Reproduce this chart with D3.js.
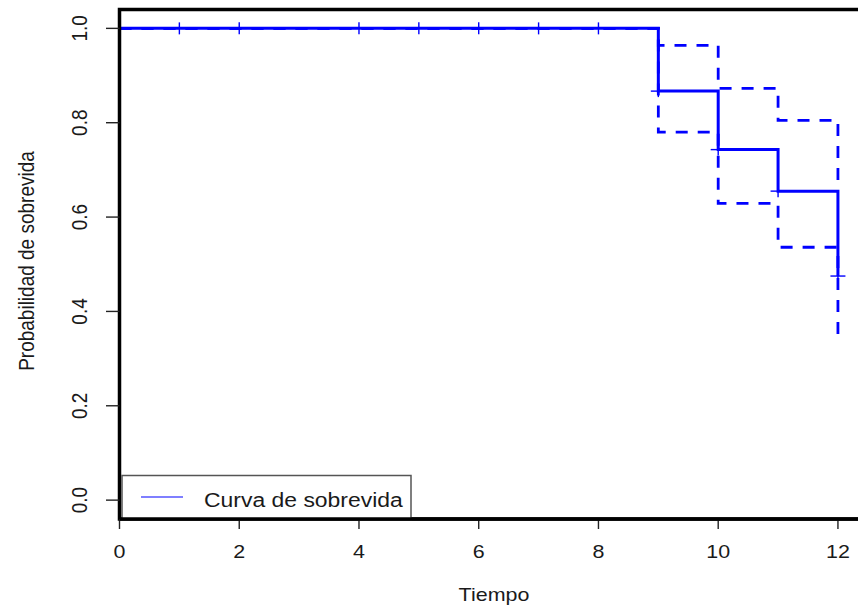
<!DOCTYPE html>
<html>
<head>
<meta charset="utf-8">
<script src="https://cdn.jsdelivr.net/npm/d3@7"></script>
<style>
  html, body { margin: 0; padding: 0; background: #fff; }
  svg { display: block; }
  text { font-family: "Liberation Sans", Arial, sans-serif; fill: #1a1a1a; }
</style>
</head>
<body>
<script>
// Kaplan-Meier estimate with 95% confidence band
const stepTimes  = [0, 9, 10, 11, 12];
const survival   = [1.0, 0.867, 0.743, 0.655, 0.475];
const upperBand  = [1.0, 0.964, 0.873, 0.805, 0.658];
const lowerBand  = [1.0, 0.780, 0.629, 0.536, 0.343];
const censorTimes = [1, 2, 4, 5, 6, 7, 8, 9, 10, 11, 12];
const xTicks = [0, 2, 4, 6, 8, 10, 12];
const yTicks = [0.0, 0.2, 0.4, 0.6, 0.8, 1.0];
const legendLabel = "Curva de sobrevida";
const xTitle = "Tiempo";
const yTitle = "Probabilidad de sobrevida";

const W = 858, H = 605;
const box = { left: 119.5, top: 9.5, bottom: 519 };
const blue = "#0000ff";
const fontSize = 19, stretch = 1.13;

const x = d3.scaleLinear().domain([0, 12.48]).range([box.left, box.left + 12.48 * 59.87]);
const y = d3.scaleLinear().domain([-0.04, 1.04]).range([box.bottom, box.top]);

const svg = d3.select("body").append("svg").attr("width", W).attr("height", H);

// step function value at time t (right-continuous)
function stepValue(vals, t) {
  let v = vals[0];
  for (let i = 0; i < stepTimes.length; i++) if (stepTimes[i] <= t) v = vals[i];
  return v;
}

function stepPath(vals) {
  const pts = stepTimes.map((t, i) => [t, vals[i]]);
  return d3.line().x(d => x(d[0])).y(d => y(d[1])).curve(d3.curveStepAfter)(pts);
}

const plot = svg.append("g");

// confidence band (dashed)
[upperBand, lowerBand].forEach(vals => {
  plot.append("path")
    .attr("d", stepPath(vals))
    .attr("fill", "none")
    .attr("stroke", blue)
    .attr("stroke-width", 2.8)
    .attr("stroke-dasharray", "12,10");
});

// survival curve
plot.append("path")
  .attr("d", stepPath(survival))
  .attr("fill", "none")
  .attr("stroke", blue)
  .attr("stroke-width", 3);

// censor marks
const marks = plot.append("g").attr("stroke", blue).attr("stroke-width", 1.4);
censorTimes.forEach(t => {
  const cx = x(t), cy = y(stepValue(survival, t));
  marks.append("line").attr("x1", cx - 7.5).attr("x2", cx + 7.5).attr("y1", cy).attr("y2", cy);
  marks.append("line").attr("x1", cx).attr("x2", cx).attr("y1", cy - 6).attr("y2", cy + 6);
});

// plot frame
svg.append("rect")
  .attr("x", box.left).attr("y", box.top)
  .attr("width", x(12.48) - box.left).attr("height", box.bottom - box.top)
  .attr("fill", "none").attr("stroke", "#000").attr("stroke-width", 3.5);

// y axis ticks and labels
const yAxis = svg.append("g");
yTicks.forEach(v => {
  yAxis.append("line").attr("x1", 106).attr("x2", box.left).attr("y1", y(v)).attr("y2", y(v))
    .attr("stroke", "#222").attr("stroke-width", 1.4);
  yAxis.append("text")
    .attr("transform", `translate(87,${y(v)}) scale(${stretch},1) rotate(-90)`)
    .attr("text-anchor", "middle")
    .attr("font-size", fontSize)
    .text(v.toFixed(1));
});

// x axis ticks and labels
const xAxis = svg.append("g");
xTicks.forEach(v => {
  xAxis.append("line").attr("x1", x(v)).attr("x2", x(v)).attr("y1", box.bottom).attr("y2", 529)
    .attr("stroke", "#222").attr("stroke-width", 1.4);
  xAxis.append("text")
    .attr("transform", `translate(${x(v)},558) scale(${stretch},1)`)
    .attr("text-anchor", "middle")
    .attr("font-size", fontSize)
    .text(v);
});

// axis titles
svg.append("text")
  .attr("transform", `translate(494,601) scale(${stretch},1)`)
  .attr("text-anchor", "middle")
  .attr("font-size", fontSize)
  .text(xTitle);
svg.append("text")
  .attr("transform", `translate(33.5,261) scale(${stretch},1) rotate(-90)`)
  .attr("text-anchor", "middle")
  .attr("font-size", fontSize)
  .text(yTitle);

// legend
const legend = svg.append("g");
legend.append("rect")
  .attr("x", 122).attr("y", 475.5).attr("width", 289).attr("height", 44)
  .attr("fill", "#fff").attr("stroke", "#555").attr("stroke-width", 1.5);
legend.append("line")
  .attr("x1", 141).attr("x2", 183).attr("y1", 497).attr("y2", 497)
  .attr("stroke", blue).attr("stroke-width", 1.2);
legend.append("text")
  .attr("transform", `translate(204,506.5) scale(1.17,1)`)
  .attr("font-size", 19.6)
  .text(legendLabel);

// redraw bottom frame edge over the legend box
svg.append("line")
  .attr("x1", box.left).attr("x2", W).attr("y1", box.bottom).attr("y2", box.bottom)
  .attr("stroke", "#000").attr("stroke-width", 3.5);
</script>
</body>
</html>
